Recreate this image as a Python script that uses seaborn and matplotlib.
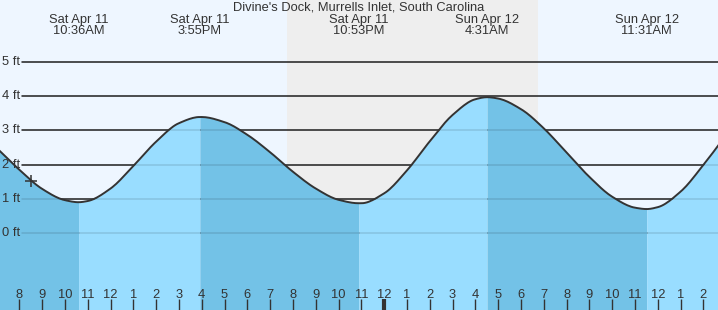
import numpy as np
import pandas as pd
import matplotlib
matplotlib.use("Agg")
import matplotlib.pyplot as plt
import matplotlib.transforms as mtransforms
import seaborn as sns

# ---------------- data ----------------
title = "Divine's Dock, Murrells Inlet, South Carolina"
# hours since Sat Apr 11 00:00
hour_times = list(range(7, 40))
hour_heights = [2.49, 1.85, 1.29, 0.96,
                0.935, 1.30, 1.96, 2.67, 3.21,
                3.39, 3.24, 2.87, 2.36, 1.79, 1.30, 0.97,
                0.87, 1.16, 1.83, 2.68, 3.45, 3.91,
                3.93, 3.62, 3.06, 2.35, 1.64, 1.06, 0.74,
                0.756, 1.21, 1.99, 2.87]
event_times = [10.6, 15.917, 22.883, 28.517, 35.517]
event_heights = [0.90, 3.39, 0.87, 3.97, 0.70]
event_days = ["Sat Apr 11", "Sat Apr 11", "Sat Apr 11", "Sun Apr 12", "Sun Apr 12"]
event_clock = ["10:36AM", "3:55PM", "10:53PM", "4:31AM", "11:31AM"]
sunset, sunrise = 19.74, 30.75
now_time, now_height = 8.5, 1.52
ft_levels = [0, 1, 2, 3, 4, 5]
ft_labels = ["0 ft", "1 ft", "2 ft", "3 ft", "4 ft", "5 ft"]
tick_hours = list(range(8, 39))
tick_labels = [str((h - 1) % 12 + 1) for h in tick_hours]

# ---------------- styling ----------------
sns.set_theme(style="white")
plt.rcParams['font.family'] = ['Liberation Sans', 'DejaVu Sans']
TXT = "#333333"
BG = "#eef6ff"
NIGHT = "#eeeeee"
LIGHT = "#99ddff"
DARK = "#73c2e7"
FS = 9.3

xmin, xmax = 7.153, 38.64
ymin, ymax = -2.25, 6.81

fig = plt.figure(figsize=(7.18, 3.10), dpi=100)
ax = fig.add_axes([0, 0, 1, 1])
ax.set_facecolor(BG)
ax.set_xlim(xmin, xmax)
ax.set_ylim(ymin, ymax)
for s in ax.spines.values():
    s.set_visible(False)

pts = pd.DataFrame({"t": hour_times + event_times,
                    "h": hour_heights + event_heights}).sort_values("t").reset_index(drop=True)


def smooth_curve(x, y, n=12):
    """Monotone cubic Hermite rendering through the read points (drawing only)."""
    x = np.asarray(x, float)
    y = np.asarray(y, float)
    dx = np.diff(x)
    d = np.diff(y) / dx
    m = np.zeros_like(y)
    m[0], m[-1] = d[0], d[-1]
    for i in range(1, len(y) - 1):
        if d[i - 1] * d[i] <= 0:
            m[i] = 0.0
        else:
            w1 = 2 * dx[i] + dx[i - 1]
            w2 = dx[i] + 2 * dx[i - 1]
            m[i] = (w1 + w2) / (w1 / d[i - 1] + w2 / d[i])
    xs, ys = [], []
    for i in range(len(x) - 1):
        s = np.linspace(0, 1, n, endpoint=False)
        h = dx[i]
        h00 = 2 * s**3 - 3 * s**2 + 1
        h10 = s**3 - 2 * s**2 + s
        h01 = -2 * s**3 + 3 * s**2
        h11 = s**3 - s**2
        xs.append(x[i] + s * h)
        ys.append(h00 * y[i] + h10 * h * m[i] + h01 * y[i + 1] + h11 * h * m[i + 1])
    xs.append([x[-1]])
    ys.append([y[-1]])
    return np.concatenate(xs), np.concatenate(ys)


cx, cy = smooth_curve(pts.t, pts.h)
df = pd.DataFrame({"t": cx, "h": cy})

# night band
ax.axvspan(sunset, sunrise, color=NIGHT, zorder=0, lw=0)

# grid lines (behind water)
for lv in ft_levels:
    ax.axhline(lv, xmin=22 / 718, xmax=1, color="#2a2a2a", lw=1.1, zorder=1)

# water fill: dark on falling tide, light on rising
bounds = [df.t.min()] + event_times + [df.t.max()]
for a, b in zip(bounds[:-1], bounds[1:]):
    seg = df[(df.t >= a - 1e-9) & (df.t <= b + 1e-9)]
    falling = seg.h.iloc[-1] < seg.h.iloc[0]
    ax.fill_between(seg.t, seg.h, ymin, color=DARK if falling else LIGHT, lw=0, zorder=2)

# faint grid lines over water
for lv in ft_levels:
    ax.axhline(lv, xmin=22 / 718, xmax=1, color="#000000", alpha=0.12, lw=1.1, zorder=3)

# tide curve
sns.lineplot(data=df, x="t", y="h", ax=ax, color="#333333", lw=1.4, zorder=4, sort=False)
ax.plot([now_time], [now_height], marker="+", ms=9, mew=1.1, color="#333333", zorder=5)

# y labels
ytr = mtransforms.blended_transform_factory(ax.transAxes, ax.transData)
for lv, lab in zip(ft_levels, ft_labels):
    ax.text(2 / 718, lv, lab, transform=ytr, ha="left", va="center", fontsize=FS, color=TXT)

# x ticks (hours)
ax.set_axisbelow(False)
ax.set_xticks(tick_hours)
ax.set_xticklabels([])
ax.tick_params(axis="x", direction="in", length=8, width=1, color="#333333", bottom=True, labelbottom=False)
ax.set_yticks([])
ax.xaxis.set_zorder(6)
for tk, hr in zip(ax.xaxis.get_major_ticks(), tick_hours):
    if hr == 24:
        tk.tick1line.set_markeredgewidth(3)
xtr = mtransforms.blended_transform_factory(ax.transData, ax.transAxes)
for hr, lab in zip(tick_hours, tick_labels):
    ax.text(hr, 1 - 295.5 / 310, lab, transform=xtr, ha="center", va="center", fontsize=FS, color=TXT)

# event labels
for t, d, c in zip(event_times, event_days, event_clock):
    ax.text(t, 1 - 19.5 / 310, d, transform=xtr, ha="center", va="center", fontsize=FS, color=TXT)
    ax.text(t, 1 - 31.5 / 310, c, transform=xtr, ha="center", va="center", fontsize=FS, color=TXT)

ax.text(0.5, 1 - 7 / 310, title, transform=ax.transAxes, ha="center", va="center", fontsize=FS, color=TXT)

ax.set_xlabel("")
ax.set_ylabel("")
fig.savefig("out.png", dpi=100, facecolor=BG)
